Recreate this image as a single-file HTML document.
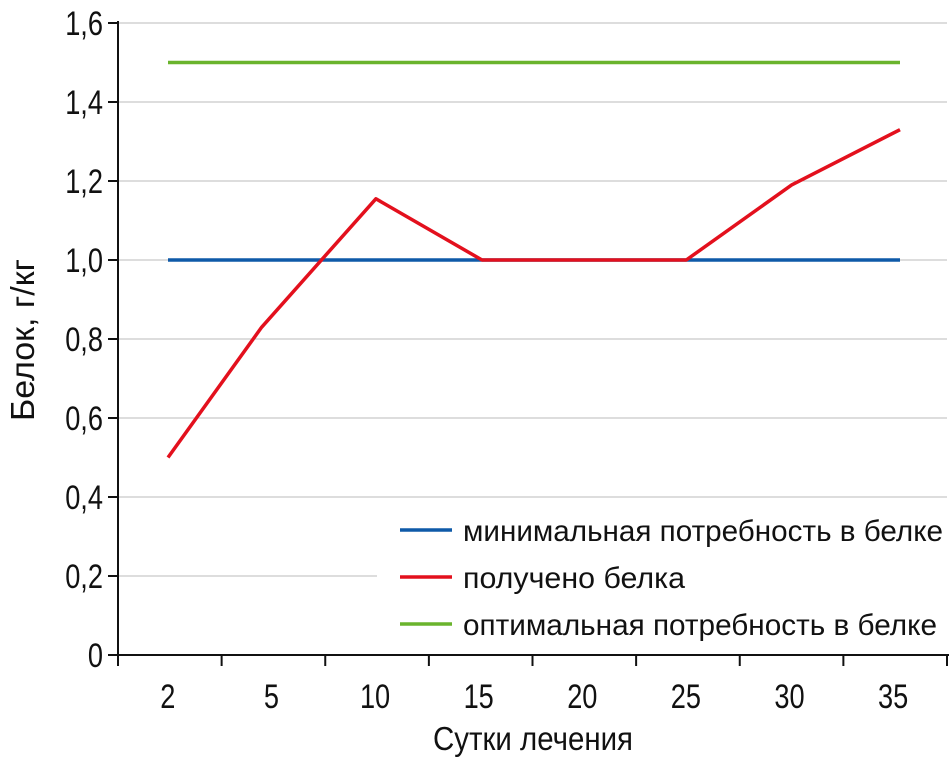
<!DOCTYPE html>
<html><head><meta charset="utf-8"><style>
body{margin:0;background:#fff}
svg text{font-family:"Liberation Sans Narrow","Liberation Sans",sans-serif;fill:#111}
</style></head><body>
<svg width="949" height="759" viewBox="0 0 949 759">
<g id="grid"></g>
<g id="series"></g>
<g id="axes"></g>
<text transform="translate(34,340) rotate(-90)" text-anchor="middle" font-size="33" textLength="162" lengthAdjust="spacingAndGlyphs">Белок, г/кг</text>
<text x="533" y="750" text-anchor="middle" font-size="33" textLength="200" lengthAdjust="spacingAndGlyphs">Сутки лечения</text>
<g>
<line x1="400" y1="530" x2="452" y2="530" stroke="#0f5aa8" stroke-width="3.5"/>
<text x="463" y="541" font-size="30" textLength="480" lengthAdjust="spacingAndGlyphs">минимальная потребность в белке</text>
<line x1="400" y1="577" x2="452" y2="577" stroke="#e3101d" stroke-width="3.5"/>
<text x="463" y="588" font-size="30" textLength="222" lengthAdjust="spacingAndGlyphs">получено белка</text>
<line x1="400" y1="624" x2="452" y2="624" stroke="#6ab42d" stroke-width="3.5"/>
<text x="463" y="635" font-size="30" textLength="474" lengthAdjust="spacingAndGlyphs">оптимальная потребность в белке</text>
</g>
</svg>
<script>
const categories=["2","5","10","15","20","25","30","35"];
const minNeed=[1,1,1,1,1,1,1,1];
const received=[0.5,0.83,1.155,1.0,1.0,1.0,1.19,1.33];
const optNeed=[1.5,1.5,1.5,1.5,1.5,1.5,1.5,1.5];
const yTicks=[0,0.2,0.4,0.6,0.8,1.0,1.2,1.4,1.6];
const yTickLabels=["0","0,2","0,4","0,6","0,8","1,0","1,2","1,4","1,6"];
const NS="http://www.w3.org/2000/svg";
const X0=118,X1=947,Y0=655,Y1=23;
const band=(X1-X0)/categories.length;
const xc=i=>X0+band*(i+0.5);
const xp=i=>[168,262,376,482,584,686,792,900][i]!==undefined?168+(900-168)*[0,0.128,0.284,0.429,0.568,0.708,0.852,1][i]:xc(i);
const y=v=>Y0-(v/1.6)*(Y0-Y1);
function mk(t,a,p){const e=document.createElementNS(NS,t);for(const k in a)e.setAttribute(k,a[k]);p.appendChild(e);return e;}
const grid=document.getElementById('grid'),axes=document.getElementById('axes'),ser=document.getElementById('series');
const SX=0.8;
yTicks.forEach((v,i)=>{
 if(v>0){const g=mk('line',{x1:X0,x2:(v===0.2?377:X1),y1:y(v),y2:y(v),stroke:'#bbb','stroke-width':1},grid);
 
 }
 const t=mk('line',{x1:108,x2:X0,y1:y(v),y2:y(v),stroke:'#111','stroke-width':2},axes);
 
 
 const l=mk('text',{x:103/SX,y:y(v)+12,'text-anchor':'end','font-size':34,transform:'scale('+SX+',1)'},axes);
 l.textContent=yTickLabels[i];
 
 
});
const ya=mk('line',{x1:X0,x2:X0,y1:Y1-2,y2:Y0+10,stroke:'#111','stroke-width':2},axes);


const xa=mk('line',{x1:108,x2:X1+2,y1:Y0,y2:Y0,stroke:'#111','stroke-width':2},axes);


for(let i=0;i<=categories.length;i++){
 const t=mk('line',{x1:X0+band*i,x2:X0+band*i,y1:Y0,y2:Y0+11,stroke:'#111','stroke-width':2},axes);
 
 
}
categories.forEach((c,i)=>{
 const l=mk('text',{x:(xc(i)-2)/SX,y:708,'text-anchor':'middle','font-size':34,transform:'scale('+SX+',1)'},axes);
 l.textContent=c;
 
 
});
function line(vals,color,name){
 const p=mk('polyline',{points:vals.map((v,i)=>xp(i)+','+y(v)).join(' '),fill:'none',stroke:color,'stroke-width':3.5,'stroke-linejoin':'round'},ser);
 
 
}
line(optNeed,'#6ab42d','optimal-need-line');
line(minNeed,'#0f5aa8','min-need-line');
line(received,'#e3101d','received-line');
</script>
</body></html>
